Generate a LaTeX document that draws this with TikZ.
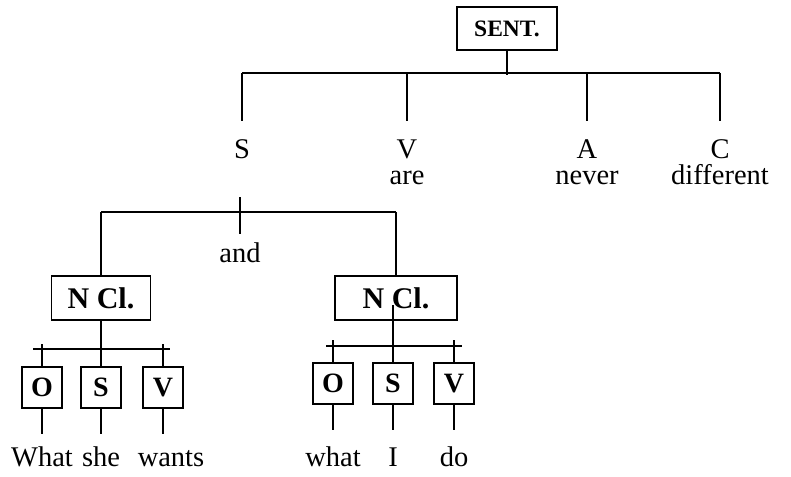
\documentclass[tikz,border=0pt]{standalone}
\usepackage{fontspec}
\setmainfont{Liberation Serif}
\usetikzlibrary{positioning}
\tikzset{
    box/.style={draw,inner sep=0pt,font=\fontsize{28}{30}\selectfont\bfseries},
    slot/.style={box,minimum width=40pt,minimum height=41pt},
    clause/.style={box,minimum height=44pt,font=\fontsize{30}{32}\selectfont\bfseries},
    word/.style={inner sep=0pt,anchor=base,font=\fontsize{28.5}{32}\selectfont},
    stem/.style={shorten >=17pt}
}

\begin{document}
\begin{tikzpicture}[x=1pt,y=-1pt,line width=1.8pt]
    \useasboundingbox (0,0) rectangle (791,476);
    % top level
    \node[box,minimum width=100pt,minimum height=43pt,
          font=\fontsize{23.5}{26}\selectfont\bfseries] (sent) at (507,28.5) {SENT.};
    \coordinate (top) at (507,75);
    \coordinate (barL) at (242,73);
    \coordinate (barR) at (720,73);
    \draw (sent) -- (top);
    \draw (barL) -- (barR);
    \node[word] (s)  at (242,158) {S};
    \node[word] (v)  at (407,158) {V};
    \node[word] (a)  at (587,158) {A};
    \node[word] (c)  at (720,158) {C};
    \node[word] (are)  at (407,184) {are};
    \node[word] (never) at (587,184) {never};
    \node[word] (diff)  at (720,184) {different};
    \draw[stem] (barL) -- (s.north);
    \draw[stem] (v |- barL) -- (v.north);
    \draw[stem] (a |- barL) -- (a.north);
    \draw[stem] (barR) -- (c.north);
    % subject
    \coordinate (sTop) at (240,197);
    \coordinate (subL) at (101,212);
    \coordinate (subR) at (396,212);
    \node[word] (and) at (240,262) {and};
    \draw (subL) -- (subR);
    \draw[shorten >=7pt] (sTop) -- (and.north);
    \node[clause,minimum width=99pt] (ncl1) at (101,298) {N Cl.};
    \node[clause,minimum width=122pt] (ncl2) at (396,298) {N Cl.};
    \draw (subL) -- (ncl1.north);
    \draw (subR) -- (ncl2.north);
    % first clause
    \node[slot] (o1) at (42,387.5) {O};
    \node[slot] (s1) at (101,387.5) {S};
    \node[slot] (v1) at (163,387.5) {V};
    \coordinate (lbL) at (33,349);
    \coordinate (lbR) at (170,349);
    \draw (lbL) -- (lbR);
    \draw (ncl1.south) -- (s1.north);
    \draw (o1.north) -- ++(0,-22);
    \draw (v1.north) -- ++(0,-22);
    \draw (o1.south) -- ++(0,25);
    \draw (s1.south) -- ++(0,25);
    \draw (v1.south) -- ++(0,25);
    \node[word] (what1) at (42,466) {What};
    \node[word] (she) at (101,466) {she};
    \node[word] (wants) at (171,466) {wants};
    % second clause
    \node[slot] (o2) at (333,383.5) {O};
    \node[slot] (s2) at (393,383.5) {S};
    \node[slot] (v2) at (454,383.5) {V};
    \coordinate (rs) at (393,305);
    \coordinate (rbL) at (326,346);
    \coordinate (rbR) at (462,346);
    \draw (rbL) -- (rbR);
    \draw (rs) -- (s2.north);
    \draw (o2.north) -- ++(0,-22);
    \draw (v2.north) -- ++(0,-22);
    \draw (o2.south) -- ++(0,25);
    \draw (s2.south) -- ++(0,25);
    \draw (v2.south) -- ++(0,25);
    \node[word] (what2) at (333,466) {what};
    \node[word] (i) at (393,466) {I};
    \node[word] (do) at (454,466) {do};
\end{tikzpicture}
\end{document}
